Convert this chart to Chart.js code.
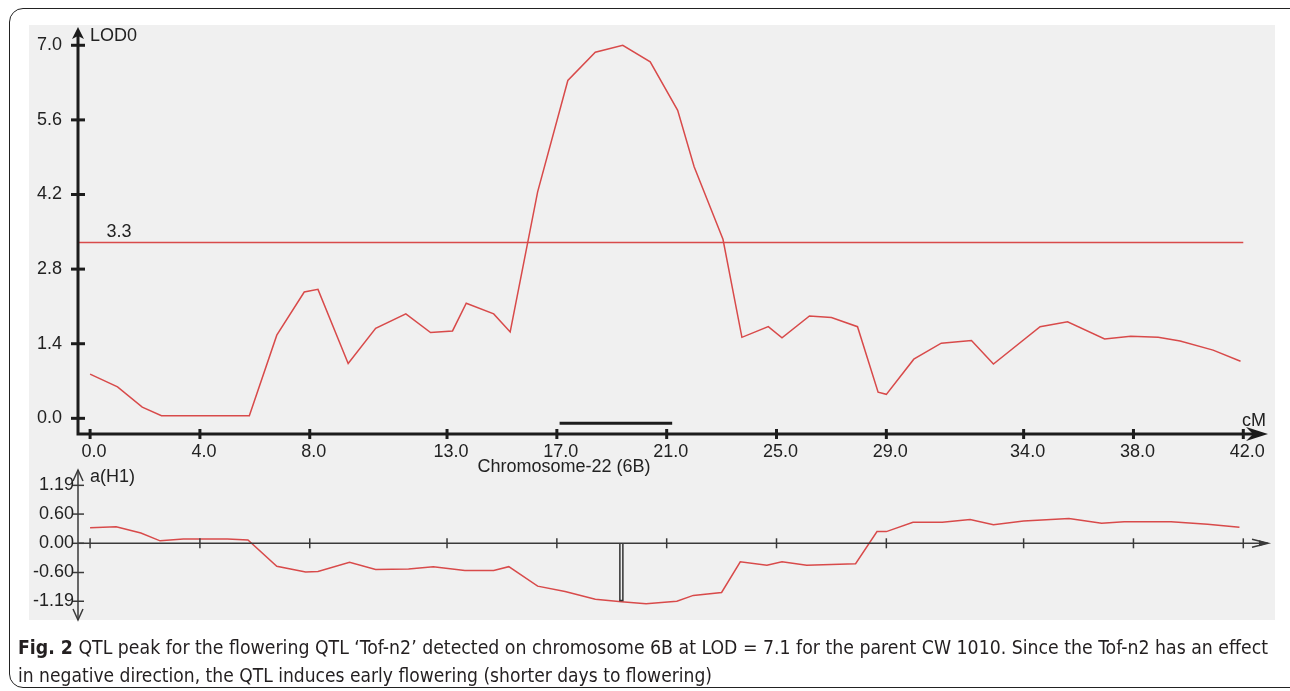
<!DOCTYPE html>
<html>
<head>
<meta charset="utf-8">
<script src="https://cdn.jsdelivr.net/npm/chart.js@4.4.1/dist/chart.umd.min.js"></script>
<style>
  html, body { margin: 0; padding: 0; background: #fff; }
  #wrap { position: relative; width: 1290px; height: 691px; overflow: hidden; }
  #frame { position: absolute; left: 9px; top: 8px; width: 1300px; height: 680px; border: 1.5px solid #222; border-radius: 14px; box-sizing: border-box; }
  #panel { position: absolute; left: 29px; top: 25px; width: 1246px; height: 595px; background: #f0f0f0; }
  canvas { position: absolute; left: 0; top: 0; }
  .cap { position: absolute; left: 18px; white-space: nowrap; line-height: 24px; font-size: 19px; color: #231f20;
         font-family: "Liberation Sans Narrow", "DejaVu Sans Condensed", "Open Sans", sans-serif; transform-origin: 0 50%; }
  .cap b { font-weight: bold; }
</style>
</head>
<body>
<div id="wrap">
  <div id="frame"></div>
  <div id="panel"></div>
  <canvas id="lod" width="1290" height="691"></canvas>
  <canvas id="eff" width="1290" height="691"></canvas>
  <div class="cap" id="cap1" data-w="1250" style="top:635px"><b>Fig. 2</b> QTL peak for the flowering QTL ‘Tof-n2’ detected on chromosome 6B at LOD = 7.1 for the parent CW 1010. Since the Tof-n2 has an effect</div>
  <div class="cap" id="cap2" data-w="694" style="top:663px">in negative direction, the QTL induces early flowering (shorter days to flowering)</div>
</div>
<script>
// position along chromosome (cM) and axis ticks
const xTicks = [0, 4, 8, 13, 17, 21, 25, 29, 34, 38, 42];
const xTickLabels = ['0.0', '4.0', '8.0', '13.0', '17.0', '21.0', '25.0', '29.0', '34.0', '38.0', '42.0'];
const lodTicks = [0, 1.4, 2.8, 4.2, 5.6, 7.0];
const lodTickLabels = ['0.0', '1.4', '2.8', '4.2', '5.6', '7.0'];
const effTicks = [1.19, 0.60, 0, -0.60, -1.19];
const effTickLabels = ['1.19', '0.60', '0.00', '-0.60', '-1.19'];

// LOD profile
const lodPos = [0, 1.0, 1.9, 2.6, 5.8, 6.8, 7.8, 8.3, 9.4, 10.4, 11.5, 12.4, 13.2, 13.7, 14.7, 15.3,
  16.3, 17.4, 18.4, 19.4, 20.4, 21.4, 22.0, 23.05, 23.74, 24.7, 25.2, 26.2, 27.0, 27.95, 28.7, 29.0,
  30.0, 31.0, 32.1, 32.9, 34.6, 35.6, 36.95, 37.9, 38.9, 39.7, 40.9, 41.9];
const lodValues = [0.83, 0.59, 0.21, 0.05, 0.05, 1.56, 2.37, 2.42, 1.03, 1.69, 1.96, 1.61, 1.64, 2.16, 1.96, 1.62,
  4.25, 6.34, 6.87, 7.0, 6.69, 5.78, 4.72, 3.36, 1.52, 1.72, 1.51, 1.92, 1.89, 1.72, 0.49, 0.45,
  1.11, 1.41, 1.46, 1.02, 1.72, 1.81, 1.49, 1.54, 1.52, 1.45, 1.28, 1.07];

// additive effect a(H1)
const effPos = [0, 0.95, 1.85, 2.55, 3.4, 5.0, 5.75, 6.8, 7.85, 8.3, 9.45, 10.4, 11.6, 12.5, 13.65, 14.7,
  15.25, 16.3, 17.3, 18.4, 19.35, 20.25, 21.37, 21.97, 23.0, 23.68, 24.65, 25.2, 26.1, 27.88, 28.66, 29.0,
  29.97, 31.04, 32.05, 32.9, 34.0, 35.65, 36.84, 37.66, 39.37, 40.7, 41.86];
const effValues = [0.32, 0.34, 0.21, 0.05, 0.09, 0.09, 0.07, -0.47, -0.59, -0.58, -0.39, -0.54, -0.53, -0.48, -0.56, -0.56,
  -0.48, -0.88, -0.99, -1.15, -1.2, -1.24, -1.19, -1.07, -1.01, -0.38, -0.45, -0.38, -0.45, -0.42, 0.24, 0.24,
  0.43, 0.43, 0.49, 0.38, 0.46, 0.51, 0.41, 0.44, 0.44, 0.39, 0.33];

const threshold = 3.3;
const ciRange = [17.1, 21.2];
const ciLevel = -0.09;
const peakPos = 19.35;
const peakEffect = -1.19;

const xMin = -0.44, xMax = 42.9;
const red = '#d84a4a';
const ink = '#1c1c1c';
const font = '18px "Liberation Sans", Arial, sans-serif';

const pts = (xs, ys) => xs.map((v, i) => ({ x: v, y: ys[i] }));

function seg(ctx, x1, y1, x2, y2) {
  ctx.beginPath(); ctx.moveTo(x1, y1); ctx.lineTo(x2, y2); ctx.stroke();
}

function options(yMin, yMax, padding) {
  return {
    responsive: false,
    animation: false,
    devicePixelRatio: 1,
    layout: { padding },
    plugins: { legend: { display: false }, tooltip: { enabled: false } },
    elements: { point: { radius: 0 }, line: { tension: 0 } },
    scales: {
      x: { type: 'linear', min: xMin, max: xMax, display: false },
      y: { type: 'linear', min: yMin, max: yMax, display: false }
    }
  };
}

const lodAxes = {
  id: 'lodAxes',
  afterDatasetsDraw(chart) {
    const { ctx, chartArea: a, scales: { x, y } } = chart;
    ctx.save();
    ctx.strokeStyle = ink; ctx.fillStyle = ink; ctx.lineWidth = 3;
    ctx.beginPath();
    ctx.moveTo(a.left, a.top + 8); ctx.lineTo(a.left, a.bottom); ctx.lineTo(a.right - 12, a.bottom);
    ctx.stroke();
    // arrow heads
    ctx.beginPath();
    ctx.moveTo(a.left, a.top); ctx.lineTo(a.left + 6, a.top + 12); ctx.lineTo(a.left, a.top + 9); ctx.lineTo(a.left - 6, a.top + 12);
    ctx.closePath(); ctx.fill();
    ctx.beginPath();
    ctx.moveTo(a.right, a.bottom); ctx.lineTo(a.right - 22, a.bottom - 7); ctx.lineTo(a.right - 15, a.bottom); ctx.lineTo(a.right - 22, a.bottom + 7);
    ctx.closePath(); ctx.fill();
    // ticks
    lodTicks.forEach(v => { const py = y.getPixelForValue(v); seg(ctx, a.left - 7, py, a.left + 7, py); });
    xTicks.forEach(v => { const px = x.getPixelForValue(v); seg(ctx, px, a.bottom - 5, px, a.bottom + 5); });
    // labels
    ctx.font = font; ctx.fillStyle = '#222';
    ctx.textAlign = 'right'; ctx.textBaseline = 'middle';
    lodTicks.forEach((v, i) => ctx.fillText(lodTickLabels[i], a.left - 16, y.getPixelForValue(v)));
    ctx.textAlign = 'center';
    xTicks.forEach((v, i) => ctx.fillText(xTickLabels[i], x.getPixelForValue(v) + 4, a.bottom + 18));
    ctx.fillText('Chromosome-22 (6B)', 564, a.bottom + 33);
    ctx.textAlign = 'left';
    ctx.fillText('LOD0', a.left + 12, a.top + 9);
    ctx.fillText('cM', a.right - 26, a.bottom - 13);
    ctx.fillText(String(threshold), x.getPixelForValue(0.6), y.getPixelForValue(threshold) - 10);
    ctx.restore();
  }
};

const effAxes = {
  id: 'effAxes',
  afterDatasetsDraw(chart) {
    const { ctx, chartArea: a, scales: { x, y } } = chart;
    const y0 = y.getPixelForValue(0);
    ctx.save();
    ctx.strokeStyle = '#3a3a3a'; ctx.fillStyle = '#3a3a3a'; ctx.lineWidth = 1.5;
    seg(ctx, a.left, a.top, a.left, a.bottom);
    seg(ctx, a.left, y0, a.right, y0);
    // open arrows
    ctx.beginPath(); ctx.moveTo(a.left - 5, a.top + 11); ctx.lineTo(a.left, a.top); ctx.lineTo(a.left + 5, a.top + 11); ctx.stroke();
    ctx.beginPath(); ctx.moveTo(a.left - 5, a.bottom - 11); ctx.lineTo(a.left, a.bottom); ctx.lineTo(a.left + 5, a.bottom - 11); ctx.stroke();
    ctx.beginPath(); ctx.moveTo(a.right - 16, y0 - 4); ctx.lineTo(a.right, y0); ctx.lineTo(a.right - 16, y0 + 4); ctx.stroke();
    ctx.beginPath(); ctx.moveTo(a.right, y0); ctx.lineTo(a.right - 9, y0 - 3); ctx.lineTo(a.right - 9, y0 + 3); ctx.closePath(); ctx.fill();
    // ticks
    effTicks.forEach(v => { const py = y.getPixelForValue(v); seg(ctx, a.left - 6, py, a.left + 6, py); });
    xTicks.forEach(v => { const px = x.getPixelForValue(v); seg(ctx, px, y0 - 5, px, y0 + 5); });
    // labels
    ctx.font = font; ctx.fillStyle = '#222';
    ctx.textAlign = 'right'; ctx.textBaseline = 'middle';
    effTicks.forEach((v, i) => ctx.fillText(effTickLabels[i], a.left - 4, y.getPixelForValue(v)));
    ctx.textAlign = 'left';
    ctx.fillText('a(H1)', a.left + 12, a.top + 7);
    ctx.restore();
  }
};

new Chart(document.getElementById('lod'), {
  type: 'line',
  data: {
    datasets: [
      { data: pts(lodPos, lodValues), borderColor: red, borderWidth: 1.5, fill: false },
      { data: pts([xMin, 42], [threshold, threshold]), borderColor: red, borderWidth: 1.5, fill: false },
      { data: pts(ciRange, [ciLevel, ciLevel]), borderColor: ink, borderWidth: 3, fill: false }
    ]
  },
  options: options(-0.294, 7.343, { left: 78, right: 22, top: 27, bottom: 257 }),
  plugins: [lodAxes]
});

new Chart(document.getElementById('eff'), {
  type: 'line',
  data: {
    datasets: [
      { data: pts(effPos, effValues), borderColor: red, borderWidth: 1.5, fill: false, order: 2 },
      { data: pts([peakPos, peakPos], [0, peakEffect + 0.03]), borderColor: '#f0f0f0', borderWidth: 1.5, fill: false, order: 0 },
      { data: pts([peakPos, peakPos], [0, peakEffect]), borderColor: '#333', borderWidth: 4.5, fill: false, order: 1 }
    ]
  },
  options: options(-1.575, 1.505, { left: 78, right: 22, top: 470, bottom: 71 }),
  plugins: [effAxes]
});

// squeeze caption lines to the widths they have in the figure
document.querySelectorAll('.cap').forEach(el => {
  const w = el.getBoundingClientRect().width;
  el.style.transform = `scaleX(${Number(el.dataset.w) / w})`;
});
</script>
</body>
</html>
